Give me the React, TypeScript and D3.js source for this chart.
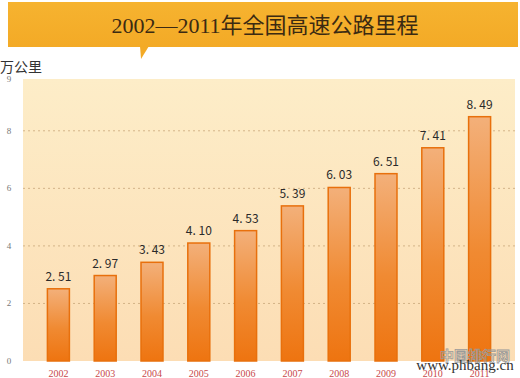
import React from "react";
import * as d3 from "d3";

const years = ["2002","2003","2004","2005","2006","2007","2008","2009","2010","2011"];
const mileage = [2.51, 2.97, 3.43, 4.10, 4.53, 5.39, 6.03, 6.51, 7.41, 8.49];
const valueLabels = ["2. 51","2. 97","3. 43","4. 10","4. 53","5. 39","6. 03","6. 51","7. 41","8. 49"];
const gridTicks = [2, 4, 6, 8];
const axisTicks = [0, 2, 4, 6, 8];
const topTickLabel = "9";
const title = "2002—2011年全国高速公路里程";
const unitLabel = "万公里";

const W = 520, H = 378;
const plot = { left: 23, right: 515, top: 79, bottom: 361 };

export default function App() {
  const x = d3.scaleBand<string>().domain(years).range([35, 503]).paddingInner(0.53).paddingOuter(0.265);
  const y = d3.scaleLinear().domain([0, 9.8]).range([plot.bottom, plot.top]);
  const serif = "'Liberation Serif','DejaVu Serif','Noto Sans CJK SC',serif";
  const sans = "'Noto Sans CJK SC','Liberation Sans',sans-serif";
  return (
    <svg width={W} height={H} style={{ position: "absolute", left: 0, top: 0, background: "#fff" }}>
      <defs>
        <linearGradient id="bg" x1="0" y1="0" x2="0" y2="1">
          <stop offset="0" stopColor="#FDEDC8" />
          <stop offset="1" stopColor="#FCDDB4" />
        </linearGradient>
        <linearGradient id="bar" x1="0" y1="0" x2="0" y2="1">
          <stop offset="0" stopColor="#F3B07A" />
          <stop offset="0.55" stopColor="#F08A32" />
          <stop offset="1" stopColor="#EE7410" />
        </linearGradient>
        <linearGradient id="banner" x1="0" y1="0" x2="0" y2="1">
          <stop offset="0" stopColor="#F6B330" />
          <stop offset="1" stopColor="#F3AA26" />
        </linearGradient>
      </defs>
      <rect x={8} y={2} width={510} height={45} fill="url(#banner)" />
      <path d={d3.line()([[140, 46], [149, 46], [141, 59]]) + "Z"} fill="#F3AA26" />
      <text x={265} y={33} textAnchor="middle" fontFamily={serif} fontSize={22} fill="#3B2A12">{title}</text>
      <text x={0} y={72} fontFamily={serif} fontSize={14} fill="#333">{unitLabel}</text>
      <rect x={plot.left} y={plot.top} width={plot.right - plot.left} height={plot.bottom - plot.top} fill="url(#bg)" />
      {gridTicks.map((t) => (
        <line key={t} x1={plot.left} x2={plot.right} y1={y(t)} y2={y(t)} stroke="#C9A77A" strokeWidth={0.8} strokeDasharray="2,3" />
      ))}
      {axisTicks.map((t) => (
        <text key={t} x={9} y={y(t) + 3} textAnchor="middle" fontFamily={serif} fontSize={9} fill="#777">{t}</text>
      ))}
      <text x={9} y={plot.top + 3} textAnchor="middle" fontFamily={serif} fontSize={9} fill="#777">{topTickLabel}</text>
      {years.map((yr, i) => {
        const bx = x(yr)!;
        const bw = x.bandwidth();
        const top = y(mileage[i]);
        return (
          <g key={yr}>
            <rect x={bx} y={top} width={bw} height={plot.bottom - top} fill="url(#bar)" stroke="#E8700C" strokeWidth={1.5} />
            <text x={bx + bw / 2} y={top - 8} textAnchor="middle" fontFamily={sans} fontSize={12} fill="#2A2A2A">{valueLabels[i]}</text>
            <text x={bx + bw / 2} y={377} textAnchor="middle" fontFamily={serif} fontSize={10} fill="#C8484A">{yr}</text>
          </g>
        );
      })}
      <text x={475} y={361} textAnchor="middle" fontFamily={sans} fontSize={14} fontWeight="bold" fill="none" stroke="#9A9A9A" strokeWidth={0.8}>中国排行网</text>
      <text x={465} y={370} textAnchor="middle" fontFamily={serif} fontSize={15} fill="#333">www.phbang.cn</text>
    </svg>
  );
}
